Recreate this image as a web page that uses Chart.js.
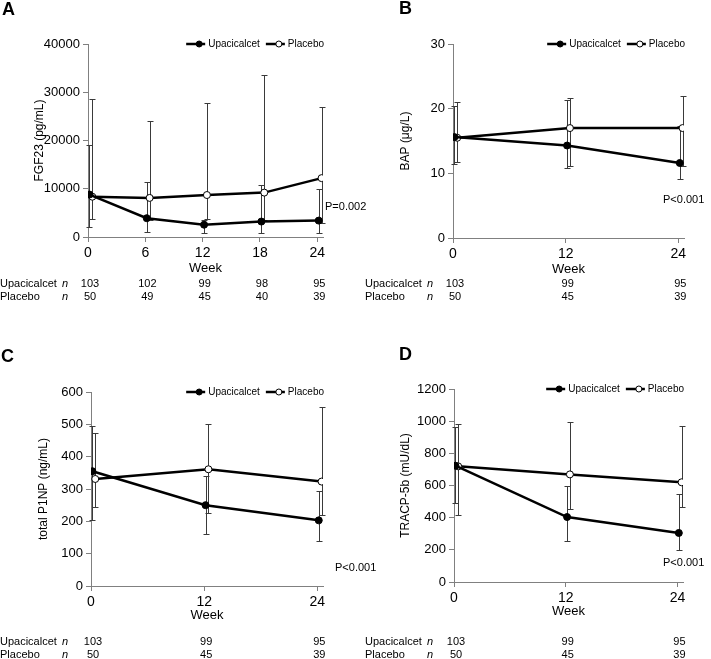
<!DOCTYPE html>
<html>
<head>
<meta charset="utf-8">
<script src="https://cdn.jsdelivr.net/npm/chart.js@4.4.1/dist/chart.umd.min.js"></script>
<style>
body { margin: 0; background: #fff; width: 711px; height: 659px; position: relative; overflow: hidden; }
canvas { position: absolute; }
</style>
</head>
<body>
<canvas id="chartA" width="385" height="320" style="left:0;top:0"></canvas>
<canvas id="chartC" width="385" height="329" style="left:0;top:330px"></canvas>
<canvas id="chartB" width="356" height="320" style="left:355px;top:0"></canvas>
<canvas id="chartD" width="356" height="329" style="left:355px;top:330px"></canvas>
<script>
// weeks
const weeksA = [0, 6, 12, 18, 24];
const weeks = [0, 12, 24];

// n per visit
const nUpaA = [103, 102, 99, 98, 95];
const nPlaA = [50, 49, 45, 40, 39];
const nUpa = [103, 99, 95];
const nPla = [50, 45, 39];

// A - FGF23 (pg/mL)
const fgfUpa = [8800, 3900, 2550, 3200, 3400];
const fgfUpaLo = [2100, 1000, 900, 800, 900];
const fgfUpaHi = [19000, 11500, 3500, 10800, 9900];
const fgfPla = [8350, 8100, 8700, 9200, 12200];
const fgfPlaLo = [3700, 3500, 3700, 3500, 2800];
const fgfPlaHi = [28700, 24000, 27800, 33600, 26900];

// B - BAP (µg/L)
const bapUpa = [15.6, 14.3, 11.6];
const bapUpaLo = [11.5, 10.8, 9.2];
const bapUpaHi = [20.4, 21.3, 17.3];
const bapPla = [15.5, 17.0, 17.0];
const bapPlaLo = [11.8, 11.1, 11.1];
const bapPlaHi = [21.0, 21.6, 22.0];

// C - total P1NP (ng/mL)
const p1npUpa = [355, 250, 203];
const p1npUpaLo = [204, 160, 140];
const p1npUpaHi = [495, 340, 293];
const p1npPla = [331, 361, 323];
const p1npPlaLo = [243, 226, 220];
const p1npPlaHi = [472, 500, 555];

// D - TRACP-5b (mU/dL)
const tracpUpa = [723, 404, 305];
const tracpUpaLo = [491, 253, 197];
const tracpUpaHi = [965, 599, 547];
const tracpPla = [719, 669, 620];
const tracpPlaLo = [418, 456, 464];
const tracpPlaHi = [984, 995, 968];

const seriesNames = ['Upacicalcet', 'Placebo'];

Chart.defaults.font.family = '"Liberation Sans", Arial, sans-serif';
Chart.defaults.color = '#000';

const axisGray = '#808080';

// error bars, drawn under the lines
const errorBars = {
    id: 'errorBars',
    beforeDatasetsDraw(chart) {
        const ctx = chart.ctx;
        const xs = chart.scales.x, ys = chart.scales.y;
        ctx.save();
        ctx.strokeStyle = '#3a3a3a';
        ctx.lineWidth = 1;
        chart.data.datasets.forEach(ds => {
            ds.data.forEach((p, i) => {
                const x = Math.round(xs.getPixelForValue(p.x)) + 0.5;
                const y1 = Math.round(ys.getPixelForValue(ds.lo[i])) + 0.5;
                const y2 = Math.round(ys.getPixelForValue(ds.hi[i])) + 0.5;
                ctx.beginPath();
                ctx.moveTo(x, y1); ctx.lineTo(x, y2);
                ctx.moveTo(x - 3, y1); ctx.lineTo(x + 3, y1);
                ctx.moveTo(x - 3, y2); ctx.lineTo(x + 3, y2);
                ctx.stroke();
            });
        });
        ctx.restore();
    }
};

// legend, panel letter, p value and n table
const extras = {
    id: 'extras',
    afterDraw(chart, args, o) {
        const ctx = chart.ctx;
        const area = chart.chartArea;
        ctx.save();

        // panel letter
        ctx.font = 'bold 18px "Liberation Sans", Arial, sans-serif';
        ctx.fillStyle = '#000';
        ctx.textBaseline = 'middle';
        ctx.textAlign = 'left';
        ctx.fillText(o.letter, o.letterX, o.letterY);

        // legend
        ctx.font = '10px "Liberation Sans", Arial, sans-serif';
        const lineW = 19, gap = 3, itemGap = 6;
        const widths = seriesNames.map(s => ctx.measureText(s).width);
        let total = 0;
        widths.forEach((w, i) => { total += lineW + gap + w + (i ? itemGap : 0); });
        let lx = area.right + 1 - total;
        const ly = area.top;
        seriesNames.forEach((s, i) => {
            if (i) lx += itemGap;
            ctx.strokeStyle = '#000';
            ctx.lineWidth = 2.5;
            ctx.beginPath();
            ctx.moveTo(lx, ly); ctx.lineTo(lx + lineW, ly);
            ctx.stroke();
            ctx.beginPath();
            ctx.arc(lx + 13, ly, 3, 0, Math.PI * 2);
            ctx.fillStyle = i ? '#fff' : '#000';
            ctx.fill();
            ctx.lineWidth = 1;
            ctx.stroke();
            ctx.fillStyle = '#000';
            ctx.fillText(s, lx + lineW + gap, ly + 0.5);
            lx += lineW + gap + widths[i];
        });

        // p value
        ctx.font = '11px "Liberation Sans", Arial, sans-serif';
        ctx.fillText(o.pText, area.right + o.pDx, area.bottom - o.pDy);

        // n table
        const xs = chart.scales.x;
        o.rows.forEach((row, r) => {
            const y = area.bottom + o.rowDy + r * 13;
            ctx.font = '11px "Liberation Sans", Arial, sans-serif';
            ctx.textAlign = 'left';
            ctx.fillText(row.name, o.tableX, y);
            ctx.font = 'italic 11px "Liberation Sans", Arial, sans-serif';
            ctx.fillText('n', o.tableX + 62, y);
            ctx.font = '11px "Liberation Sans", Arial, sans-serif';
            ctx.textAlign = 'center';
            row.n.forEach((v, i) => {
                ctx.fillText(String(v), xs.getPixelForValue(o.ticks[i]) + 2, y);
            });
        });
        ctx.restore();
    }
};

function makePanel(id, p) {
    const dodge = [0.15, 0.45];
    const make = (vals, lo, hi, k) => ({
        label: seriesNames[k],
        data: vals.map((v, i) => ({ x: p.ticks[i] + dodge[k], y: v })),
        lo: lo,
        hi: hi,
        borderColor: '#000',
        borderWidth: 2.5,
        pointRadius: 3.5,
        pointBorderWidth: 1,
        pointBorderColor: '#000',
        pointBackgroundColor: k ? '#fff' : '#000',
        tension: 0
    });
    const c = document.getElementById(id);
    new Chart(c, {
        type: 'line',
        data: {
            datasets: [
                make(p.upa, p.upaLo, p.upaHi, 0),
                make(p.pla, p.plaLo, p.plaHi, 1)
            ]
        },
        options: {
            responsive: false,
            animation: false,
            devicePixelRatio: 1,
            layout: {
                padding: {
                    left: p.left - p.yW,
                    top: p.top,
                    right: c.width - p.right,
                    bottom: c.height - p.bottom - p.xH
                }
            },
            plugins: {
                legend: { display: false },
                tooltip: { enabled: false },
                extras: {
                    letter: p.letter, letterX: p.letterX, letterY: p.letterY,
                    pText: p.pText, pDx: p.pDx, pDy: p.pDy,
                    tableX: p.tableX, rowDy: p.rowDy, ticks: p.ticks,
                    rows: [
                        { name: seriesNames[0], n: p.nUpa },
                        { name: seriesNames[1], n: p.nPla }
                    ]
                }
            },
            scales: {
                x: {
                    type: 'linear',
                    min: 0,
                    max: 24.6,
                    afterBuildTicks: s => { s.ticks = p.ticks.map(v => ({ value: v })); },
                    afterFit: s => { s.height = p.xH; },
                    grid: { drawOnChartArea: false, color: axisGray, tickLength: 5 },
                    border: { color: axisGray },
                    ticks: { font: { size: 14 }, padding: 3, maxRotation: 0, color: '#000' },
                    title: { display: true, text: 'Week', font: { size: 13 }, padding: { top: 0, bottom: 0 }, color: '#000' }
                },
                y: {
                    min: 0,
                    max: p.yMax,
                    afterFit: s => { s.width = p.yW; },
                    grid: { drawOnChartArea: false, color: axisGray, tickLength: 5 },
                    border: { color: axisGray },
                    ticks: { stepSize: p.yStep, font: { size: 13 }, padding: 3, color: '#000', callback: v => String(v) },
                    title: { display: true, text: p.yTitle, font: { size: 12 }, color: '#000' }
                }
            }
        },
        plugins: [errorBars, extras]
    });
}

makePanel('chartA', {
    ticks: weeksA, upa: fgfUpa, upaLo: fgfUpaLo, upaHi: fgfUpaHi,
    pla: fgfPla, plaLo: fgfPlaLo, plaHi: fgfPlaHi, nUpa: nUpaA, nPla: nPlaA,
    yMax: 40000, yStep: 10000, yTitle: 'FGF23 (pg/mL)',
    left: 88, top: 44, right: 323, bottom: 237, yW: 60, xH: 39,
    letter: 'A', letterX: 2, letterY: 10, pText: 'P=0.002', pDx: 2, pDy: 30,
    tableX: 0, rowDy: 47
});
makePanel('chartB', {
    ticks: weeks, upa: bapUpa, upaLo: bapUpaLo, upaHi: bapUpaHi,
    pla: bapPla, plaLo: bapPlaLo, plaHi: bapPlaHi, nUpa: nUpa, nPla: nPla,
    yMax: 30, yStep: 10, yTitle: 'BAP (\u03bcg/L)',
    left: 98, top: 44, right: 329, bottom: 238, yW: 59, xH: 39,
    letter: 'B', letterX: 44, letterY: 9, pText: 'P<0.001', pDx: -21, pDy: 38,
    tableX: 10, rowDy: 46
});
makePanel('chartC', {
    ticks: weeks, upa: p1npUpa, upaLo: p1npUpaLo, upaHi: p1npUpaHi,
    pla: p1npPla, plaLo: p1npPlaLo, plaHi: p1npPlaHi, nUpa: nUpa, nPla: nPla,
    yMax: 600, yStep: 100, yTitle: 'total P1NP (ng/mL)',
    left: 91, top: 62, right: 323, bottom: 256, yW: 59, xH: 37,
    letter: 'C', letterX: 1, letterY: 27, pText: 'P<0.001', pDx: 12, pDy: 18,
    tableX: 0, rowDy: 56
});
makePanel('chartD', {
    ticks: weeks, upa: tracpUpa, upaLo: tracpUpaLo, upaHi: tracpUpaHi,
    pla: tracpPla, plaLo: tracpPlaLo, plaHi: tracpPlaHi, nUpa: nUpa, nPla: nPla,
    yMax: 1200, yStep: 200, yTitle: 'TRACP-5b (mU/dL)',
    left: 99, top: 59, right: 328, bottom: 252, yW: 60, xH: 37,
    letter: 'D', letterX: 44, letterY: 25, pText: 'P<0.001', pDx: -20, pDy: 19,
    tableX: 10, rowDy: 60
});
</script>
</body>
</html>
